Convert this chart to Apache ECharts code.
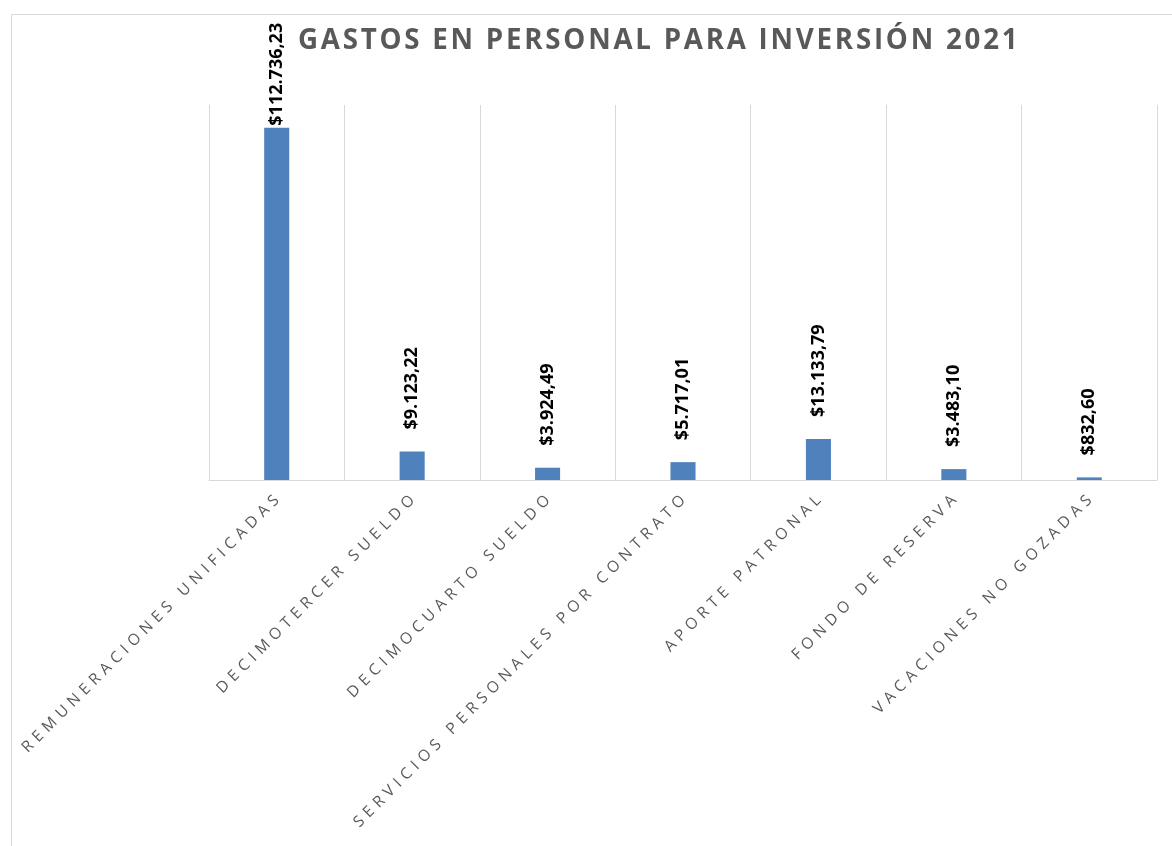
<!DOCTYPE html>
<html>
<head>
<meta charset="utf-8">
<title>Gastos en personal para inversión 2021</title>
<script src="https://cdn.jsdelivr.net/npm/echarts@6/dist/echarts.min.js"></script>
<style>
  html, body { margin: 0; padding: 0; background: #ffffff; }
  #chart { width: 1172px; height: 846px; }
</style>
</head>
<body>
<div id="chart"></div>
<script>
// Datos
const CATEGORIES = [
  "REMUNERACIONES UNIFICADAS",
  "DECIMOTERCER SUELDO",
  "DECIMOCUARTO SUELDO",
  "SERVICIOS PERSONALES POR CONTRATO",
  "APORTE PATRONAL",
  "FONDO DE RESERVA",
  "VACACIONES NO GOZADAS",
];
const VALUES = [112736.23, 9123.22, 3924.49, 5717.01, 13133.79, 3483.10, 832.60];
const TITLE = "GASTOS EN PERSONAL PARA INVERSIÓN 2021";

// Colores
const BAR_COLOR = "#4f81bd";
const TEXT_GRAY = "#595959";
const LINE_GRAY = "#d9d9d9";

// Espaciado entre letras (el canvas no tiene letterSpacing)
function spaced(str, gap) {
  return str.split("").join(gap);
}

// 112736.23 -> "$112.736,23"
function money(v) {
  const parts = v.toFixed(2).split(".");
  const ent = parts[0].replace(/\B(?=(\d{3})+(?!\d))/g, ".");
  return "$" + ent + "," + parts[1];
}

const chart = echarts.init(document.getElementById("chart"), null, { renderer: "canvas" });

chart.setOption({
  animation: false,
  backgroundColor: "#ffffff",
  textStyle: { fontFamily: "Open Sans" },
  graphic: [
    {
      type: "rect",
      left: 9,
      top: 12,
      shape: { width: 1300, height: 1000 },
      style: { fill: null, stroke: LINE_GRAY, lineWidth: 1 },
      silent: true,
    },
  ],
  title: {
    text: spaced(TITLE, "\u200A"),
    left: 293,
    top: 22,
    textStyle: {
      fontFamily: "Open Sans",
      fontSize: 27.7,
      fontWeight: "bold",
      color: TEXT_GRAY,
    },
  },
  grid: { left: 209, right: 15, top: 105, bottom: 366 },
  xAxis: {
    type: "category",
    data: CATEGORIES,
    axisLine: { lineStyle: { color: LINE_GRAY, width: 1 } },
    axisTick: { show: false },
    splitLine: { show: true, lineStyle: { color: LINE_GRAY, width: 1 } },
    axisLabel: {
      interval: 0,
      rotate: 45,
      margin: 18,
      color: TEXT_GRAY,
      fontSize: 15.6,
      fontFamily: "Open Sans",
      formatter: (v) => spaced(v, "\u2009\u2009"),
    },
  },
  yAxis: {
    type: "value",
    min: 0,
    max: 120000,
    show: false,
    splitLine: { show: false },
  },
  series: [
    {
      type: "bar",
      data: VALUES.map((v, i) =>
        i === 0 ? { value: v, label: { distance: 2 } } : v
      ),
      barWidth: "18.5%",
      itemStyle: { color: BAR_COLOR },
      label: {
        show: true,
        position: "top",
        distance: 22,
        rotate: 90,
        align: "left",
        verticalAlign: "middle",
        color: "#000000",
        fontSize: 18,
        fontWeight: "bold",
        fontFamily: "Open Sans",
        formatter: (p) => money(p.value),
      },
    },
  ],
});
</script>
</body>
</html>
